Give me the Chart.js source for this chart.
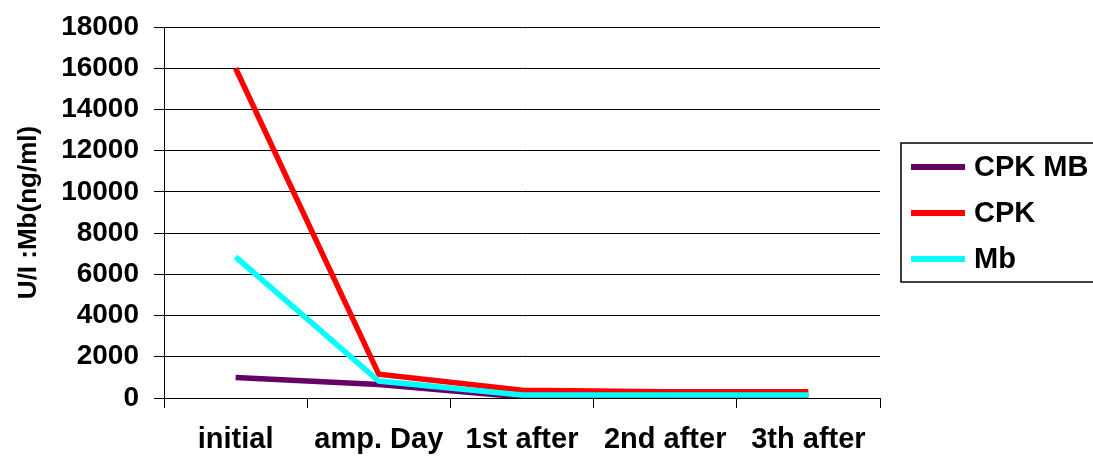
<!DOCTYPE html>
<html>
<head>
<meta charset="utf-8">
<script src="https://cdn.jsdelivr.net/npm/chart.js@4.4.1/dist/chart.umd.min.js"></script>
<style>
  html, body { margin: 0; padding: 0; background: #fff; }
  #wrap { width: 1093px; height: 459px; position: relative; }
</style>
</head>
<body>
<div id="wrap"><canvas id="c" width="1093" height="459"></canvas></div>
<script>
// Categories along the time axis
const categories = ['initial', 'amp. Day', '1st after', '2nd after', '3th after'];

// Series values
const cpkMb = [1000, 650, 50, 50, 50];
const cpk = [16000, 1150, 380, 300, 300];
const mb = [6850, 820, 150, 150, 150];

// Series names and colours
const seriesNames = ['CPK MB', 'CPK', 'Mb'];
const seriesColors = ['#660066', '#FF0000', '#00FFFF'];

// Value axis ticks
const yTicks = [0, 2000, 4000, 6000, 8000, 10000, 12000, 14000, 16000, 18000];
const yTitle = 'U/I :Mb(ng/ml)';

const FONT = "'Liberation Sans', Arial, sans-serif";

// Boxed legend on the right, built from the chart's datasets
const boxLegend = {
  id: 'boxLegend',
  afterDraw(chart) {
    const ctx = chart.ctx;
    const x0 = 901, y0 = 143, x1 = 1100, y1 = 282;
    ctx.save();
    ctx.strokeStyle = '#000';
    ctx.lineWidth = 1.5;
    ctx.strokeRect(x0, y0, x1 - x0, y1 - y0);
    const rows = [167, 213, 259];
    ctx.font = 'bold 29px ' + FONT;
    ctx.textBaseline = 'middle';
    ctx.textAlign = 'left';
    chart.data.datasets.forEach((ds, i) => {
      const y = rows[i];
      ctx.strokeStyle = ds.borderColor;
      ctx.lineWidth = 6;
      ctx.lineCap = 'butt';
      ctx.beginPath();
      ctx.moveTo(911, y);
      ctx.lineTo(965, y);
      ctx.stroke();
      ctx.fillStyle = '#000';
      ctx.fillText(ds.label, 974, y + 1);
    });
    ctx.restore();
  }
};

new Chart(document.getElementById('c'), {
  type: 'line',
  data: {
    labels: categories,
    datasets: [
      { label: seriesNames[0], data: cpkMb, borderColor: seriesColors[0], order: 3 },
      { label: seriesNames[1], data: cpk, borderColor: seriesColors[1], order: 2 },
      { label: seriesNames[2], data: mb, borderColor: seriesColors[2], order: 1 }
    ].map(d => Object.assign(d, {
      backgroundColor: d.borderColor,
      borderWidth: 5.5,
      pointRadius: 0,
      pointHoverRadius: 0,
      tension: 0,
      fill: false,
      borderJoinStyle: 'miter'
    }))
  },
  options: {
    responsive: false,
    animation: false,
    events: [],
    layout: { padding: { top: 27, right: 213, left: 0, bottom: 0 } },
    plugins: {
      legend: { display: false },
      tooltip: { enabled: false }
    },
    scales: {
      x: {
        type: 'category',
        offset: true,
        grid: {
          offset: true,
          drawOnChartArea: false,
          drawTicks: true,
          tickLength: 10,
          color: '#000',
          lineWidth: 1
        },
        border: { display: true, color: '#000', width: 1 },
        ticks: {
          color: '#000',
          font: { family: FONT, size: 29, weight: 'bold' },
          padding: 15,
          maxRotation: 0,
          autoSkip: false
        },
        afterFit(scale) {
          scale.height = 61;
          scale.paddingLeft = 0;
          scale.paddingRight = 0;
        }
      },
      y: {
        min: 0,
        max: 18000,
        afterBuildTicks(scale) { scale.ticks = yTicks.map(v => ({ value: v })); },
        grid: {
          drawTicks: true,
          tickLength: 10,
          color: '#000',
          lineWidth: 1
        },
        border: { display: true, color: '#000', width: 1 },
        ticks: {
          color: '#000',
          font: { family: FONT, size: 28, weight: 'bold' },
          padding: 15,
          callback: v => String(v)
        },
        title: {
          display: true,
          text: yTitle,
          color: '#000',
          font: { family: FONT, size: 26, weight: 'bold' },
          padding: { top: 13, bottom: 0 }
        },
        afterFit(scale) {
          scale.width = 164;
          scale.paddingTop = 0;
          scale.paddingBottom = 0;
        }
      }
    }
  },
  plugins: [boxLegend]
});
</script>
</body>
</html>
